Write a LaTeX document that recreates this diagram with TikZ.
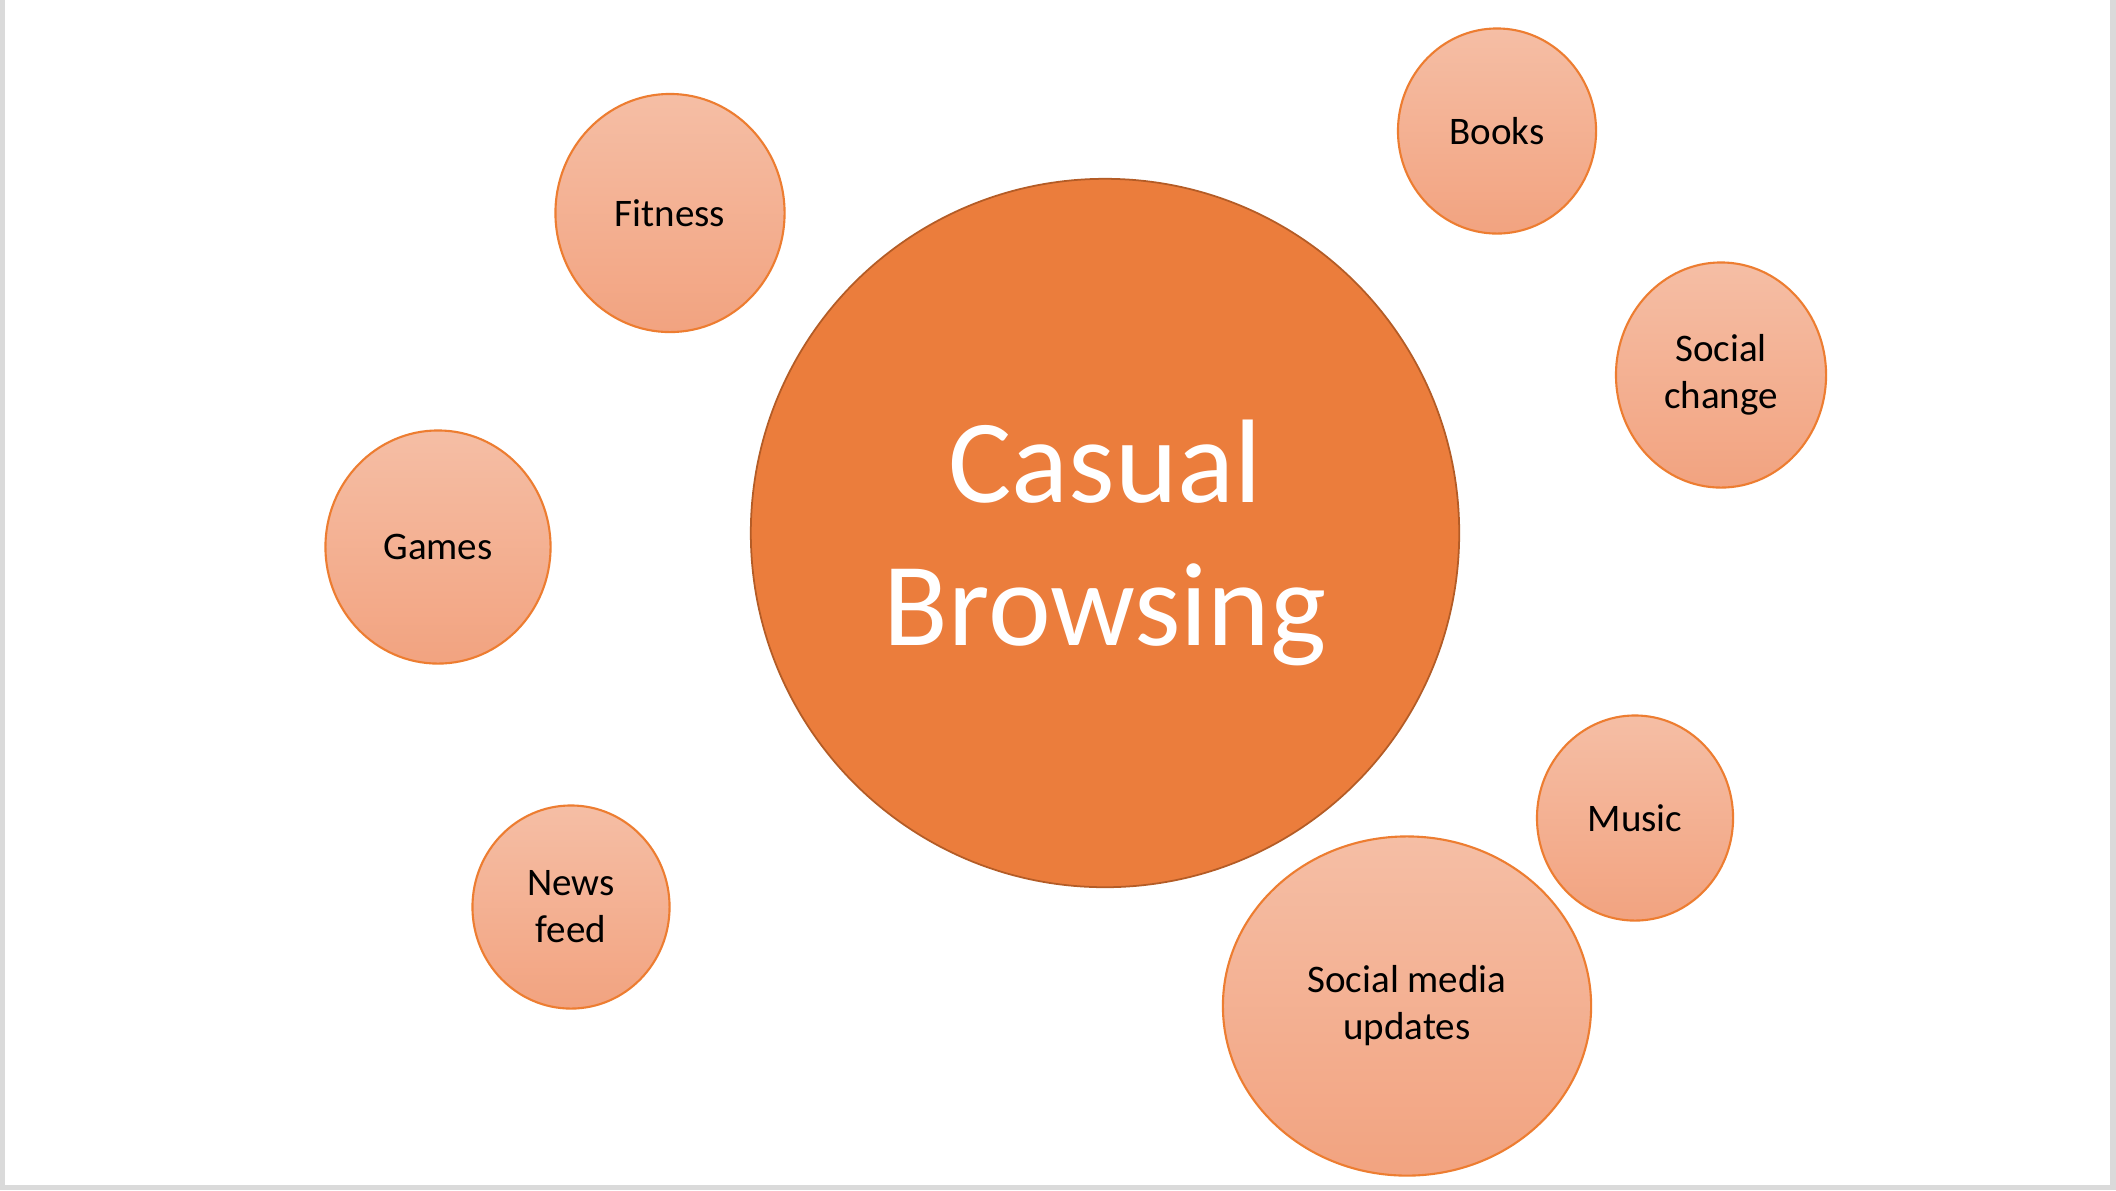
\documentclass[tikz,border=0pt]{standalone}
\usepackage{fontspec}
\setmainfont{Carlito}
\usetikzlibrary{shapes.geometric}

\definecolor{hubfill}{RGB}{235,125,60}
\definecolor{hubline}{RGB}{180,92,38}
\definecolor{topictop}{RGB}{245,190,165}
\definecolor{topicbottom}{RGB}{242,163,128}
\definecolor{topicline}{RGB}{237,125,49}
\definecolor{framegray}{RGB}{218,218,218}

\begin{document}
\begin{tikzpicture}[
    x=0.01cm, y=-0.01cm,
    hub/.style={
        circle,
        draw=hubline,
        fill=hubfill,
        line width=0.5pt,
        minimum size=7.08cm,
        inner sep=0pt,
        text=white,
        text depth=0pt,
        align=center,
        font=\fontsize{33.8pt}{40.7pt}\selectfont
    },
    topic/.style={
        ellipse,
        draw=topicline,
        line width=0.6pt,
        inner sep=0pt,
        top color=topictop,
        bottom color=topicbottom,
        align=center,
        font=\fontsize{11.1pt}{13.4pt}\selectfont
    }
]

    % --- Frame ---
    \useasboundingbox (0,0) rectangle (2116,1190);
    \fill[framegray] (0,0) rectangle (2116,1190);
    \fill[white] (5,0) rectangle (2110,1185);

    % --- Centre ---
    \node [hub] (browse) at (1105,533) {Casual\\Browsing};

    % --- Topics, left side ---
    \node [topic, minimum width=2.29cm, minimum height=2.38cm] (fitness) at (670,213) {Fitness};
    \node [topic, minimum width=2.25cm, minimum height=2.33cm] (games) at (438,547) {Games};
    \node [topic, minimum width=1.97cm, minimum height=2.03cm] (news) at (571,907) {News\\feed};

    % --- Topics, right side ---
    \node [topic, minimum width=1.98cm, minimum height=2.05cm] (books) at (1497,131) {Books};
    \node [topic, minimum width=2.10cm, minimum height=2.25cm] (change) at (1721,375) {Social\\change};
    \node [topic, minimum width=1.96cm, minimum height=2.05cm] (music) at (1635,818) {Music};
    \node [topic, minimum width=3.68cm, minimum height=3.39cm] (updates) at (1407,1006) {Social media\\updates};

\end{tikzpicture}
\end{document}
